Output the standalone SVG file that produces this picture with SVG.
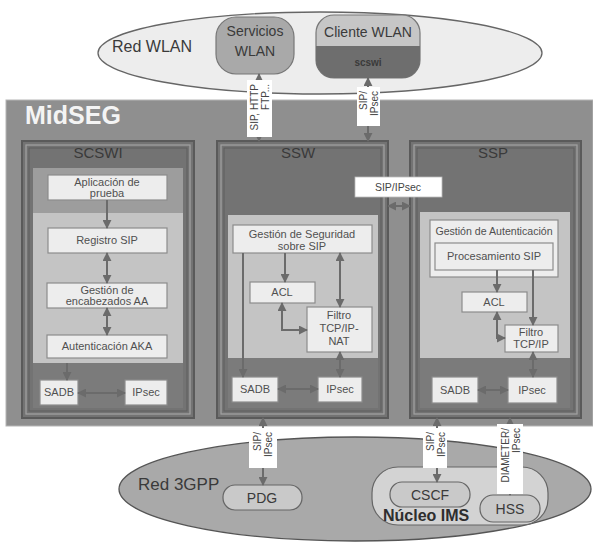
<svg xmlns="http://www.w3.org/2000/svg" width="593" height="543" viewBox="0 0 593 543">
  <defs>
    <style>
      text { font-family: "Liberation Sans", Arial, sans-serif; fill: #3a3a3a; }
      .box { fill: #ededed; stroke: #8c8c8c; stroke-width: 1.2; }
      .lbl { font-size: 11px; text-anchor: middle; fill: #505050; }
      .ttl { font-size: 15px; text-anchor: middle; fill: #3a3a3a; }
      .mod { fill: #737373; stroke: #5a5a5a; stroke-width: 2; }
      .fr1 { fill: none; stroke: #a3a3a3; stroke-width: 1.2; }
      .fr2 { fill: none; stroke: #5e5e5e; stroke-width: 1; }
      .lite { fill: #c4c4c4; }
      .mid { fill: #9d9d9d; }
      .low { fill: #7b7b7b; }
      .con { stroke: #6b6b6b; stroke-width: 2; fill: none; }
      .dbl { marker-start: url(#ah); marker-end: url(#ah); }
      .one { marker-end: url(#ah); }
      .tag { fill: #ffffff; }
      .rot { font-size: 10px; text-anchor: end; fill: #444; }
      .pill { fill: #c9c9c9; stroke: #666; stroke-width: 1.2; }
      .big { font-size: 14px; text-anchor: middle; fill: #3a3a3a; }
      .brand { font-size: 25px; font-weight: bold; fill: #f4f4f4; }
      .core { font-size: 16px; font-weight: bold; fill: #2e2e2e; }
    </style>
    <marker id="ah" viewBox="0 0 10 10" refX="9" refY="5" markerWidth="9" markerHeight="9" markerUnits="userSpaceOnUse" orient="auto-start-reverse">
      <path d="M0,0 L10,5 L0,10 z" fill="#6b6b6b"/>
    </marker>
  </defs>

  <rect width="593" height="543" fill="#ffffff"/>

  <!-- WLAN side -->
  <g id="red-wlan">
    <ellipse cx="320" cy="53" rx="222" ry="41" fill="#ededed" stroke="#666" stroke-width="1.3"/>
    <text x="112" y="52" font-size="16">Red WLAN</text>
  </g>
  <g id="servicios-wlan">
    <rect x="216" y="17" width="78" height="57" rx="20" fill="#a9a9a9" stroke="#777" stroke-width="1.2"/>
    <text class="big" x="255" y="36">Servicios</text>
    <text class="big" x="255" y="56">WLAN</text>
  </g>
  <g id="cliente-wlan">
    <rect x="316" y="15" width="104" height="63" rx="18" fill="#c6c6c6" stroke="#777" stroke-width="1.2"/>
    <path d="M316,46 H420 V60 a18,18 0 0 1 -18,18 H334 a18,18 0 0 1 -18,-18 Z" fill="#6e6e6e"/>
    <text class="big" x="368" y="37">Cliente WLAN</text>
    <text x="368" y="66" font-size="10" font-weight="bold" text-anchor="middle">scswi</text>
  </g>

  <!-- MidSEG gateway -->
  <g id="midseg">
    <rect x="6" y="100" width="587" height="326" fill="#8f8f8f" stroke="#b5b5b5" stroke-width="1"/>
    <text class="brand" x="25" y="124">MidSEG</text>
  </g>

  <!-- SCSWI module -->
  <g id="scswi">
    <rect class="mod" x="22" y="141" width="172" height="277"/>
    <rect class="fr1" x="26" y="145" width="164" height="269"/>
    <rect class="fr2" x="29" y="148" width="158" height="263"/>
    <rect class="mid" x="33" y="168" width="150" height="45"/>
    <rect class="lite" x="33" y="213" width="150" height="150"/>
    <rect class="low" x="33" y="363" width="150" height="45"/>
    <text class="ttl" x="98" y="158">SCSWI</text>
  </g>
  <g id="scswi-app">
    <rect class="box" x="48" y="175" width="119" height="25"/>
    <text class="lbl" x="107" y="186">Aplicación de</text>
    <text class="lbl" x="107" y="197">prueba</text>
  </g>
  <g id="scswi-registro">
    <rect class="box" x="48" y="228" width="119" height="25"/>
    <text class="lbl" x="107" y="244">Registro SIP</text>
  </g>
  <g id="scswi-encabezados">
    <rect class="box" x="47" y="283" width="120" height="25"/>
    <text class="lbl" x="107" y="294">Gestión de</text>
    <text class="lbl" x="107" y="305">encabezados AA</text>
  </g>
  <g id="scswi-aka">
    <rect class="box" x="47" y="335" width="120" height="23"/>
    <text class="lbl" x="107" y="350">Autenticación AKA</text>
  </g>
  <g id="scswi-sadb">
    <rect class="box" x="40" y="380" width="38" height="25"/>
    <text class="lbl" x="59" y="396">SADB</text>
  </g>
  <g id="scswi-ipsec">
    <rect class="box" x="125" y="380" width="42" height="25"/>
    <text class="lbl" x="146" y="396">IPsec</text>
  </g>

  <!-- SSW module -->
  <g id="ssw">
    <rect class="mod" x="217" y="141" width="171" height="277"/>
    <rect class="fr1" x="221" y="145" width="163" height="269"/>
    <rect class="fr2" x="224" y="148" width="157" height="263"/>
    <rect class="lite" x="228" y="215" width="150" height="143"/>
    <rect class="low" x="228" y="358" width="150" height="50"/>
    <text class="ttl" x="298" y="158">SSW</text>
  </g>
  <g id="ssw-gestion">
    <rect class="box" x="233" y="225" width="139" height="28"/>
    <text class="lbl" x="302" y="238">Gestión de Seguridad</text>
    <text class="lbl" x="302" y="250">sobre SIP</text>
  </g>
  <g id="ssw-acl">
    <rect class="box" x="250" y="282" width="65" height="21"/>
    <text class="lbl" x="282" y="296">ACL</text>
  </g>
  <g id="ssw-filtro">
    <rect class="box" x="307" y="307" width="65" height="45"/>
    <text class="lbl" x="339" y="319">Filtro</text>
    <text class="lbl" x="339" y="332">TCP/IP-</text>
    <text class="lbl" x="339" y="345">NAT</text>
  </g>
  <g id="ssw-sadb">
    <rect class="box" x="232" y="377" width="46" height="25"/>
    <text class="lbl" x="255" y="393">SADB</text>
  </g>
  <g id="ssw-ipsec">
    <rect class="box" x="318" y="377" width="44" height="25"/>
    <text class="lbl" x="340" y="393">IPsec</text>
  </g>

  <!-- SSP module -->
  <g id="ssp">
    <rect class="mod" x="410" y="141" width="171" height="277"/>
    <rect class="fr1" x="414" y="145" width="163" height="269"/>
    <rect class="fr2" x="417" y="148" width="157" height="263"/>
    <rect class="lite" x="420" y="212" width="150" height="146"/>
    <rect class="low" x="420" y="358" width="150" height="50"/>
    <text class="ttl" x="493" y="158">SSP</text>
  </g>
  <g id="ssp-gestion">
    <rect class="box" x="430" y="220" width="128" height="57"/>
    <text class="lbl" x="494" y="235" style="font-size:10.6px">Gestión de Autenticación</text>
  </g>
  <g id="ssp-procesamiento">
    <rect class="box" x="435" y="243" width="118" height="27"/>
    <text class="lbl" x="494" y="260">Procesamiento SIP</text>
  </g>
  <g id="ssp-acl">
    <rect class="box" x="462" y="292" width="65" height="20"/>
    <text class="lbl" x="494" y="306">ACL</text>
  </g>
  <g id="ssp-filtro">
    <rect class="box" x="505" y="325" width="53" height="27"/>
    <text class="lbl" x="531" y="336">Filtro</text>
    <text class="lbl" x="531" y="348">TCP/IP</text>
  </g>
  <g id="ssp-sadb">
    <rect class="box" x="432" y="377" width="46" height="26"/>
    <text class="lbl" x="455" y="394">SADB</text>
  </g>
  <g id="ssp-ipsec">
    <rect class="box" x="508" y="377" width="49" height="26"/>
    <text class="lbl" x="532" y="394">IPsec</text>
  </g>

  <!-- 3GPP side -->
  <g id="red-3gpp">
    <ellipse cx="355" cy="489" rx="236" ry="52" fill="#a9a9a9" stroke="#555" stroke-width="1.3"/>
    <text x="138" y="490" font-size="17">Red 3GPP</text>
  </g>
  <g id="pdg">
    <rect class="pill" x="223" y="485" width="79" height="25" rx="12"/>
    <text class="big" x="262" y="503">PDG</text>
  </g>
  <g id="nucleo-ims">
    <rect x="372" y="467" width="176" height="58" rx="26" fill="#d3d3d3" stroke="#666" stroke-width="1.2"/>
    <text class="core" x="383" y="521">Núcleo IMS</text>
  </g>
  <g id="cscf">
    <rect class="pill" x="390" y="482" width="80" height="25" rx="12"/>
    <text class="big" x="430" y="500">CSCF</text>
  </g>
  <g id="hss">
    <rect class="pill" x="480" y="495" width="60" height="27" rx="13"/>
    <text class="big" x="510" y="514">HSS</text>
  </g>

  <!-- Connectors -->
  <g id="connectors">
    <!-- SCSWI -->
    <line class="con one" x1="107" y1="200" x2="107" y2="228" stroke-width="2.5"/>
    <line class="con dbl" x1="107" y1="253" x2="107" y2="283" stroke-width="2.5"/>
    <line class="con dbl" x1="107" y1="308" x2="107" y2="335" stroke-width="2.5"/>
    <line class="con one" x1="67" y1="363" x2="67" y2="380" stroke-width="2.5"/>
    <line class="con dbl" x1="78" y1="393" x2="125" y2="393" stroke-width="2.5"/>
    <!-- SSW -->
    <line class="con one" x1="285" y1="253" x2="285" y2="282"/>
    <line class="con dbl" x1="340" y1="253" x2="340" y2="307"/>
    <line class="con one" x1="243" y1="253" x2="243" y2="377" stroke-width="1.5"/>
    <path class="con dbl" d="M282,303 V330 H307"/>
    <line class="con dbl" x1="340" y1="352" x2="340" y2="377"/>
    <line class="con dbl" x1="278" y1="389" x2="318" y2="389"/>
    <!-- SSP -->
    <line class="con one" x1="497" y1="270" x2="497" y2="292"/>
    <line class="con one" x1="533" y1="270" x2="533" y2="325" stroke-width="1.5"/>
    <path class="con dbl" d="M497,312 V338 H505"/>
    <line class="con dbl" x1="533" y1="352" x2="533" y2="377"/>
    <line class="con dbl" x1="478" y1="390" x2="508" y2="390"/>
    <!-- between networks and modules -->
    <line class="con dbl" x1="259" y1="74" x2="259" y2="141"/>
    <line class="con dbl" x1="368" y1="78" x2="368" y2="141"/>
    <line class="con dbl" x1="388" y1="206" x2="410" y2="206"/>
    <line class="con dbl" x1="263" y1="418" x2="263" y2="485"/>
    <line class="con dbl" x1="437" y1="418" x2="437" y2="482"/>
    <line class="con dbl" x1="510" y1="418" x2="510" y2="495"/>

    <!-- connector labels -->
    <rect class="tag" x="247" y="80" width="25" height="57"/>
    <text class="rot" transform="translate(258,84) rotate(-90)">SIP, HTTP<tspan x="0" dy="11">FTP...</tspan></text>
    <rect class="tag" x="357" y="87" width="23" height="39"/>
    <text class="rot" transform="translate(367,91) rotate(-90)">SIP/<tspan x="0" dy="11">IPsec</tspan></text>
    <rect class="tag" x="355" y="177" width="87" height="20" stroke="#bbb" stroke-width="0.8"/>
    <text x="398" y="191" font-size="10.5" text-anchor="middle" style="fill:#444">SIP/IPsec</text>
    <rect class="tag" x="249" y="428" width="28" height="40"/>
    <text class="rot" transform="translate(261,432) rotate(-90)">SIP/<tspan x="0" dy="11">IPsec</tspan></text>
    <rect class="tag" x="423" y="428" width="24" height="40"/>
    <text class="rot" transform="translate(434,432) rotate(-90)">SIP/<tspan x="0" dy="11">IPsec</tspan></text>
    <rect class="tag" x="497" y="424" width="26" height="70"/>
    <text class="rot" transform="translate(509,428) rotate(-90)">DIAMETER/<tspan x="0" dy="11">IPsec</tspan></text>
  </g>
</svg>
